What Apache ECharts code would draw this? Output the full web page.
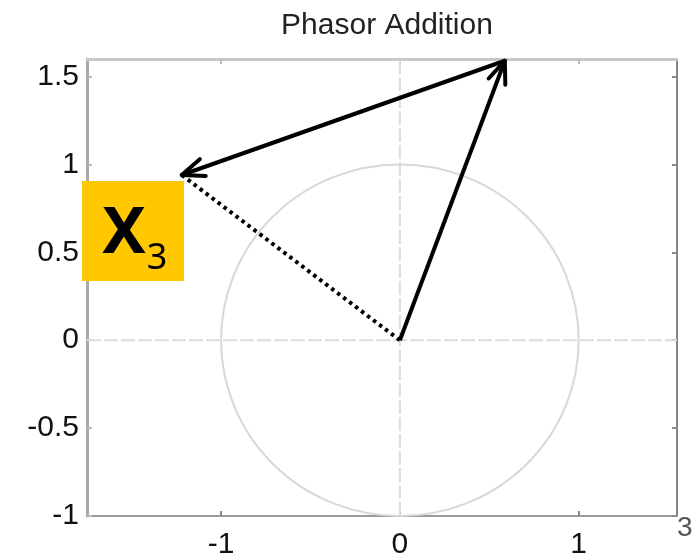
<!DOCTYPE html>
<html>
<head>
<meta charset="utf-8">
<script src="https://cdn.jsdelivr.net/npm/echarts@6/dist/echarts.min.js"></script>
<style>html,body{margin:0;padding:0;background:#fff}#c{width:700px;height:560px}</style>
</head>
<body>
<div id="c"></div>
<script>
// ---- data ----
const titleText = 'Phasor Addition';
const xTicks = [-1, 0, 1];
const yTicks = [-1, -0.5, 0, 0.5, 1, 1.5];
const xRange = [-1.75, 1.55];
const yRange = [-1, 1.6];
// phasors: start (re, im) -> end (re, im)
const phasorNames = ['X1', 'X2', 'X3'];
const startRe = [0, 0.587, 0];
const startIm = [0, 1.59, 0];
const endRe = [0.587, -1.22, -1.22];
const endIm = [1.59, 0.94, 0.94];
const unitCircle = [[0, 0, 1]]; // center re, center im, radius
const labelMain = 'X';
const labelSub = '3';

// ---- chart ----
const chart = echarts.init(document.getElementById('c'), null, {renderer: 'canvas'});
const FONT = 'Liberation Sans';
const axisCommon = {
  type: 'value',
  axisLine: {show: true, onZero: false, lineStyle: {color: '#9a9a9a', width: 2}},
  axisTick: {show: true, inside: true, length: 5, lineStyle: {color: '#8a8a8a', width: 2}},
  splitLine: {show: false}
};
const phasorData = phasorNames.map((n, i) => [startRe[i], startIm[i], endRe[i], endIm[i], i]);
const dottedIdx = 2;
const arrowIdx = [0, 1];

function arrowItem(params, api) {
  const p0 = api.coord([api.value(0), api.value(1)]);
  const p1 = api.coord([api.value(2), api.value(3)]);
  const idx = api.value(4);
  const dotted = idx === dottedIdx;
  const children = [{
    type: 'line',
    shape: {x1: p0[0], y1: p0[1], x2: p1[0], y2: p1[1]},
    style: {stroke: '#000', lineWidth: dotted ? 4 : 4, lineDash: dotted ? [3.5, 4] : null, lineCap: 'butt'}
  }];
  if (arrowIdx.indexOf(idx) >= 0) {
    const ang = Math.atan2(p1[1] - p0[1], p1[0] - p0[0]);
    const L = 24, a = 0.38;
    [a, -a].forEach(d => {
      children.push({
        type: 'line',
        shape: {x1: p1[0], y1: p1[1], x2: p1[0] - L * Math.cos(ang + d), y2: p1[1] - L * Math.sin(ang + d)},
        style: {stroke: '#000', lineWidth: 4, lineCap: 'round'}
      });
    });
  }
  return {type: 'group', children};
}

function circleItem(params, api) {
  const c = api.coord([api.value(0), api.value(1)]);
  const rx = api.size([api.value(2), 0])[0];
  const ry = api.size([0, api.value(2)])[1];
  return {
    type: 'circle',
    shape: {cx: 0, cy: 0, r: rx},
    x: c[0], y: c[1], scaleX: 1, scaleY: ry / rx,
    style: {fill: 'none', stroke: '#d8d8d8', lineWidth: 2}
  };
}

function crossItem(params, api) {
  const a = api.coord([xRange[0], 0]), b = api.coord([xRange[1], 0]);
  const c = api.coord([0, yRange[0]]), d = api.coord([0, yRange[1]]);
  const st = {stroke: '#dcdcdc', lineWidth: 2, lineDash: [14, 3]};
  return {type: 'group', children: [
    {type: 'line', shape: {x1: a[0], y1: a[1], x2: b[0], y2: b[1]}, style: st},
    {type: 'line', shape: {x1: c[0], y1: c[1], x2: d[0], y2: d[1]}, style: st}
  ]};
}

chart.setOption({
  animation: false,
  backgroundColor: '#fff',
  title: {
    text: titleText, left: 382, top: 6, textAlign: 'center',
    textStyle: {fontFamily: FONT, fontSize: 30, fontWeight: 'normal', color: '#222'}
  },
  grid: {left: 87, right: 23, top: 59, bottom: 39, containLabel: false},
  xAxis: [
    Object.assign({}, axisCommon, {
      position: 'bottom', min: xRange[0], max: xRange[1],
      axisTick: Object.assign({}, axisCommon.axisTick, {customValues: xTicks}),
      axisLabel: {customValues: xTicks, fontFamily: FONT, fontSize: 30, color: '#111', margin: 14}
    }),
    Object.assign({}, axisCommon, {
      position: 'top', min: xRange[0], max: xRange[1],
      axisLine: {show: true, onZero: false, lineStyle: {color: '#c8c8c8', width: 3}},
      axisTick: Object.assign({}, axisCommon.axisTick, {customValues: xTicks, lineStyle: {color: '#bbb', width: 2}}),
      axisLabel: {show: false}
    })
  ],
  yAxis: [
    Object.assign({}, axisCommon, {
      position: 'left', min: yRange[0], max: yRange[1],
      axisLine: {show: true, onZero: false, lineStyle: {color: '#a8a8a8', width: 3}},
      axisTick: Object.assign({}, axisCommon.axisTick, {customValues: yTicks, lineStyle: {color: '#bbb', width: 2}}),
      axisLabel: {customValues: yTicks, fontFamily: FONT, fontSize: 30, color: '#111', margin: 8}
    }),
    Object.assign({}, axisCommon, {
      position: 'right', min: yRange[0], max: yRange[1],
      axisLine: {show: true, onZero: false, lineStyle: {color: '#858585', width: 2}},
      axisTick: Object.assign({}, axisCommon.axisTick, {customValues: yTicks}),
      axisLabel: {show: false}
    })
  ],
  series: [
    {type: 'custom', renderItem: crossItem, data: [[0, 0]], silent: true, z: 1},
    {type: 'custom', renderItem: circleItem, data: unitCircle, silent: true, z: 2},
    {type: 'custom', renderItem: arrowItem, data: phasorData, silent: true, z: 3, clip: false}
  ],
  graphic: [
    {type: 'rect', left: 82, top: 181, shape: {width: 102, height: 100}, style: {fill: '#FFC800'}, z: 10},
    {type: 'text', x: 124, y: 234, style: {text: labelMain, font: 'bold 65px "Noto Sans"', fill: '#000', align: 'center', verticalAlign: 'middle'}, z: 11},
    {type: 'text', x: 157, y: 259, style: {text: labelSub, font: '36px "Noto Sans"', fill: '#000', align: 'center', verticalAlign: 'middle'}, z: 11},
    {type: 'text', x: 677, y: 528, style: {text: '3', font: '28px "Liberation Sans"', fill: '#555', align: 'left', verticalAlign: 'middle'}, z: 11}
  ]
});
</script>
</body>
</html>
